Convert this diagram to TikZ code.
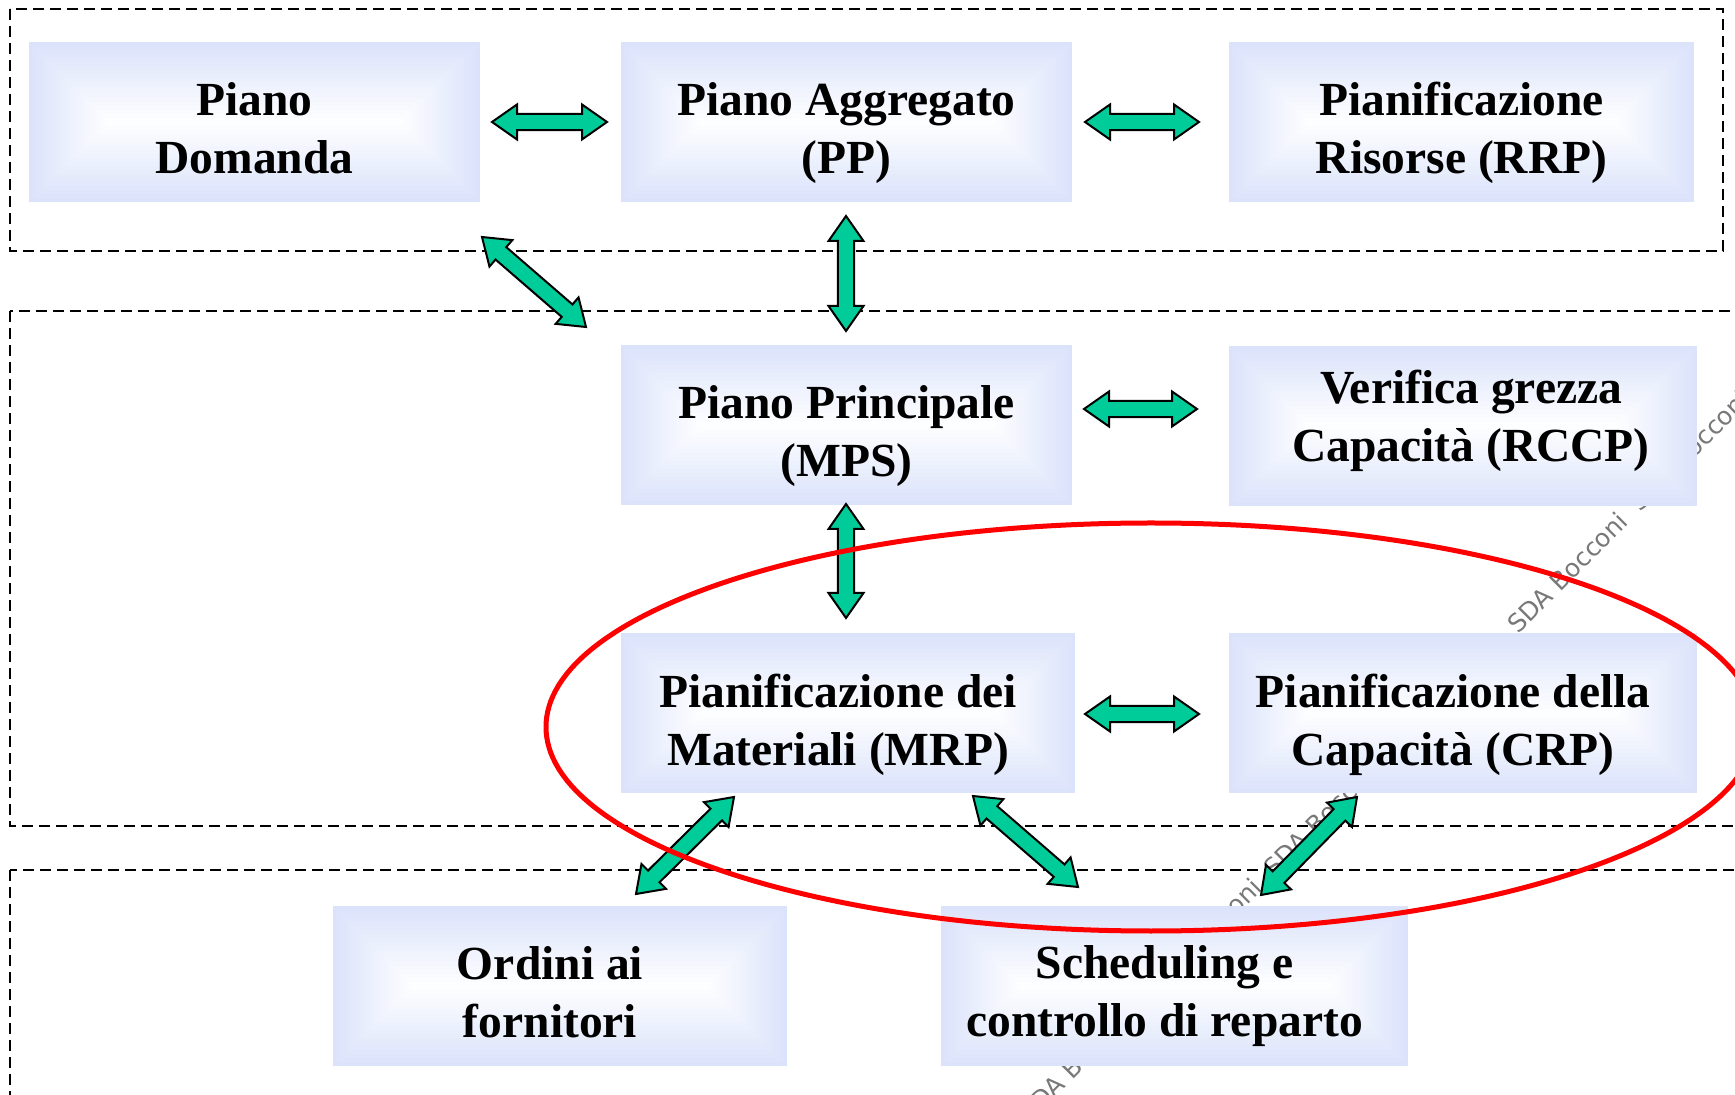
\documentclass[tikz,border=0pt]{standalone}
\usepackage{fontspec}
\setmainfont{Liberation Serif}
\newfontfamily\wmfont{DejaVu Sans}
\usetikzlibrary{calc}
\definecolor{boxblue}{RGB}{219,227,251}
\definecolor{arrowgreen}{RGB}{0,204,153}
\definecolor{wmgray}{RGB}{120,120,120}
\newcommand\ahl{12.5pt}
\newcommand\ahw{8.75pt}
\newcommand\asw{4.1pt}
\newcommand{\dblarrow}[2]{%
  \filldraw[blockarrow]
   (#1)
   -- ($(#1)!\ahl!(#2)!\ahw!90:(#2)$)
   -- ($(#1)!\ahl!(#2)!\asw!90:(#2)$)
   -- ($(#2)!\ahl!(#1)!\asw!-90:(#1)$)
   -- ($(#2)!\ahl!(#1)!\ahw!-90:(#1)$)
   -- (#2)
   -- ($(#2)!\ahl!(#1)!\ahw!90:(#1)$)
   -- ($(#2)!\ahl!(#1)!\asw!90:(#1)$)
   -- ($(#1)!\ahl!(#2)!\asw!-90:(#2)$)
   -- ($(#1)!\ahl!(#2)!\ahw!-90:(#2)$)
   -- cycle;}
\tikzset{
  box/.style={rectangle, inner sep=0pt, minimum height=80pt, fill=boxblue,
    path picture={
      \foreach \k in {1,...,20} {
        \pgfmathsetmacro\dd{\k*2}
        \pgfmathtruncatemacro\pp{\k*5}
        \fill[white!\pp!boxblue]
          ($(path picture bounding box.south west)+(\dd pt,\dd pt)$) rectangle
          ($(path picture bounding box.north east)-(\dd pt,\dd pt)$);
      }
    }},
  boxtext/.style={inner sep=0pt, align=center, font=\bfseries\fontsize{23.75}{29}\selectfont},
  dashbox/.style={draw=black, line width=1pt, dash pattern=on 5.5pt off 3pt},
  blockarrow/.style={fill=arrowgreen, draw=black, line width=1pt, line join=miter},
  wm/.style={font=\wmfont\fontsize{12.5}{15}\selectfont, text=wmgray, inner sep=0pt, rotate=45, anchor=base west},
  ring/.style={draw=red, line width=2.5pt}
}
\begin{document}
\begin{tikzpicture}[x=0.5pt, y=-0.5pt]
\useasboundingbox (0,0) rectangle (1735,1095);

% watermark
\foreach \k in {-3,...,4} {
  \node[wm] (wm\k) at ({1518-122*\k},{635+122*\k}) {SDA Bocconi};
}

% dashed groups
\draw[dashbox] (10,9) rectangle (1723,251);
\draw[dashbox] (10,311) rectangle (1800,826);
\draw[dashbox] (10,870) rectangle (1800,1200);

% boxes
\node[box, minimum width=225.5pt] (pd) at (254.5,122) {};
\node[box, minimum width=225.5pt] (pa) at (846.5,122) {};
\node[box, minimum width=232.5pt] (rrp) at (1461.5,122) {};
\node[box, minimum width=225.5pt] (mps) at (846.5,425.5) {};
\node[box, minimum width=234pt] (rccp) at (1463,426) {};
\node[box, minimum width=227pt] (mrp) at (848,713.5) {};
\node[box, minimum width=234pt] (crp) at (1463,713.5) {};
\node[box, minimum width=227pt] (ord) at (560,986) {};
\node[box, minimum width=233.5pt] (sch) at (1174.5,986) {};

% box texts
\node[boxtext] (pdt) at ($(pd)+(0,6)$) {Piano\\Domanda};
\node[boxtext] (pat) at ($(pa)+(0,11)$) {Piano Aggregato\\(PP)};
\node[boxtext] (rrpt) at ($(rrp)+(0,11)$) {Pianificazione\\Risorse (RRP)};
\node[boxtext] (mpst) at ($(mps)+(0,11)$) {Piano Principale\\(MPS)};
\node[boxtext] (rccpt) at ($(rccp)+(8,-5)$) {Verifica grezza\\Capacità (RCCP)};
\node[boxtext] (mrpt) at ($(mrp)+(-10,11)$) {Pianificazione dei\\Materiali (MRP)};
\node[boxtext] (crpt) at ($(crp)+(-10,11)$) {Pianificazione della\\Capacità (CRP)};
\node[boxtext] (ordt) at ($(ord)+(-10,6)$) {Ordini ai\\fornitori};
\node[boxtext] (scht) at ($(sch)+(-10,10)$) {Scheduling e\\controllo di reparto};

% arrow end points
\coordinate (a1s) at (492,122);   \coordinate (a1e) at (607,122);
\coordinate (a2s) at (1085,122);  \coordinate (a2e) at (1199,122);
\coordinate (a3s) at (1084,409);  \coordinate (a3e) at (1197,409);
\coordinate (a4s) at (1085,714);  \coordinate (a4e) at (1199,714);
\coordinate (v1s) at (846,216);   \coordinate (v1e) at (846,331);
\coordinate (v2s) at (846,504);   \coordinate (v2e) at (846,618);
\coordinate (d1s) at (482,237);   \coordinate (d1e) at (586,327);
\coordinate (d2s) at (734,797);   \coordinate (d2e) at (636,894);
\coordinate (d3s) at (973,796);   \coordinate (d3e) at (1078,887);
\coordinate (d4s) at (1357,797);  \coordinate (d4e) at (1261,895);

\dblarrow{a1s}{a1e}
\dblarrow{a2s}{a2e}
\dblarrow{a3s}{a3e}
\dblarrow{a4s}{a4e}
\dblarrow{v1s}{v1e}
\dblarrow{v2s}{v2e}
\dblarrow{d1s}{d1e}
\dblarrow{d2s}{d2e}
\dblarrow{d3s}{d3e}
\dblarrow{d4s}{d4e}

% red ellipse
\draw[ring] (1151,727) ellipse [x radius=605, y radius=204];
\end{tikzpicture}
\end{document}
